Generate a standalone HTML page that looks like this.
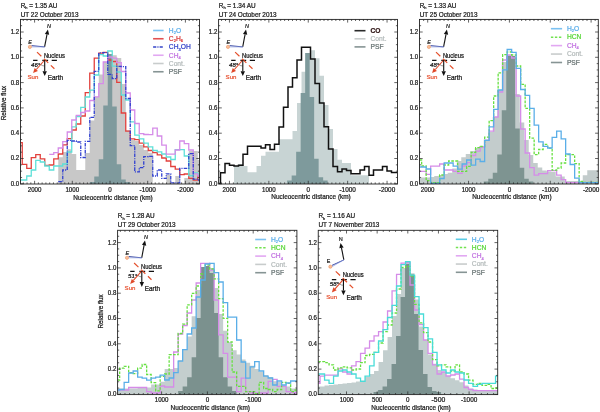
<!DOCTYPE html><html><head><meta charset="utf-8"><style>html,body{margin:0;padding:0;background:#fff;}svg{display:block;will-change:transform}text{font-family:"Liberation Sans", sans-serif}</style></head><body>
<svg width="600" height="412" viewBox="0 0 600 412">
<rect width="600" height="412" fill="#fff"/>
<defs><clipPath id="c1"><rect x="20.50" y="19.40" width="179.00" height="164.60"/></clipPath></defs>
<g clip-path="url(#c1)">
<path d="M58.25,184.00V157.30H62.75V152.00H67.25V149.20H71.75V154.00H76.25V170.10H80.75V170.10H85.25V153.00H89.75V120.50H94.25V96.70H98.75V74.50H103.25V61.80H107.75V54.00H112.25V55.30H116.75V58.00H121.25V84.00H125.75V130.30H130.25V140.00H134.75V141.00H139.25V145.00H143.75V150.00H148.25V152.70H152.75V184.00ZM166.25,184.00V174.70H170.75V184.00ZM175.25,184.00V176.00H179.75V184.00ZM184.25,184.00V178.00H188.75V151.00H193.25V151.00H197.75V160.00H199.50V184.00Z" fill="#c8c8c8"/>
<path d="M89.75,184.00V182.00H94.25V176.50H98.75V159.20H103.25V105.50H107.75V54.00H112.25V106.50H116.75V164.30H121.25V179.40H125.75V182.00H130.25V184.00Z" fill="#7f9a9d"/>
<path d="M20.50,142.70H22.25V164.40H26.75V168.30H31.25V157.70H35.75V154.70H40.25V158.90H44.75V165.30H49.25V165.00H53.75V158.90H58.25V154.00H62.75V144.90H67.25V138.70H71.75V130.00H76.25V124.00H80.75V116.00H85.25V92.60H89.75V73.20H94.25V58.20H98.75V53.10H103.25V52.40H107.75V60.00H112.25V61.50H116.75V82.40H121.25V113.00H125.75V131.10H130.25V138.80H134.75V139.60H139.25V143.20H143.75V146.80H148.25V150.50H152.75V152.70H157.25V154.80H161.75V158.00H166.25V161.00H170.75V166.50H175.25V169.20H179.75V174.70H184.25V174.00H188.75V178.30H193.25V180.10H197.75V176.00H199.50" fill="none" stroke="#e2403c" stroke-width="1.3"/>
<path d="M20.50,180.00H22.25V180.00H26.75V176.00H31.25V170.00H35.75V160.40H40.25V162.00H44.75V166.00H49.25V170.00H53.75V166.00H58.25V166.00H62.75V164.00H67.25V152.00H71.75V126.80H76.25V116.50H80.75V107.30H85.25V97.00H89.75V90.20H94.25V75.00H98.75V54.60H103.25V56.00H107.75V51.00H112.25V66.20H116.75V72.00H121.25V95.00H125.75V100.00H130.25V121.80H134.75V135.20H139.25V138.80H143.75V143.20H148.25V146.80H152.75V150.50H157.25V151.90H161.75V154.00H166.25V157.00H170.75V159.50H175.25V149.70H179.75V149.70H184.25V156.00H188.75V175.60H193.25V173.00H197.75V174.00H199.50" fill="none" stroke="#5ee0d8" stroke-width="1.3"/>
<path d="M49.25,154.40H53.75V152.70H58.25V148.00H62.75V141.70H67.25V132.00H71.75V120.00H76.25V115.30H80.75V112.50H85.25V111.00H89.75V100.50H94.25V96.80H98.75V83.70H103.25V62.00H107.75V57.00H112.25V58.20H116.75V62.60H121.25V71.50H125.75V93.00H130.25V110.00H134.75V123.50H139.25V133.70H143.75V134.50H148.25V134.60H152.75V128.20H157.25V136.00H161.75V145.10H166.25V154.20H170.75V154.20H175.25V150.00H179.75V141.00H184.25V143.70H188.75V150.00H193.25V173.80H197.75V176.00H199.50" fill="none" stroke="#d58ce8" stroke-width="1.3"/>
<path d="M58.25,181.70H62.75V170.00H67.25V140.30H71.75V141.00H76.25V142.00H80.75V157.50H85.25V141.30H89.75V117.30H94.25V71.30H98.75V52.80H103.25V52.60H107.75V74.40H112.25V78.70H116.75V66.30H121.25V66.60H125.75V98.50H130.25V145.60H134.75V171.90H139.25V167.70H143.75V156.60H148.25V156.40H152.75V176.00H157.25V170.00H161.75V178.30H166.25V173.80H170.75V182.90H175.25V182.90H179.75V168.30H184.25V168.30H188.75V153.70H193.25V179.20H197.75V180.00H199.50" fill="none" stroke="#3040d0" stroke-width="1.3" stroke-dasharray="3.6,1.1,1.1,1.1"/>
</g>
<rect x="20.50" y="19.40" width="179.00" height="164.60" fill="none" stroke="#222" stroke-width="0.9"/>
<path d="M20.50,183.80h3.20M199.50,183.80h-3.20M20.50,177.48h1.60M199.50,177.48h-1.60M20.50,171.15h1.60M199.50,171.15h-1.60M20.50,164.83h1.60M199.50,164.83h-1.60M20.50,158.50h3.20M199.50,158.50h-3.20M20.50,152.18h1.60M199.50,152.18h-1.60M20.50,145.85h1.60M199.50,145.85h-1.60M20.50,139.53h1.60M199.50,139.53h-1.60M20.50,133.20h3.20M199.50,133.20h-3.20M20.50,126.88h1.60M199.50,126.88h-1.60M20.50,120.55h1.60M199.50,120.55h-1.60M20.50,114.23h1.60M199.50,114.23h-1.60M20.50,107.90h3.20M199.50,107.90h-3.20M20.50,101.58h1.60M199.50,101.58h-1.60M20.50,95.25h1.60M199.50,95.25h-1.60M20.50,88.93h1.60M199.50,88.93h-1.60M20.50,82.60h3.20M199.50,82.60h-3.20M20.50,76.28h1.60M199.50,76.28h-1.60M20.50,69.95h1.60M199.50,69.95h-1.60M20.50,63.62h1.60M199.50,63.62h-1.60M20.50,57.30h3.20M199.50,57.30h-3.20M20.50,50.97h1.60M199.50,50.97h-1.60M20.50,44.65h1.60M199.50,44.65h-1.60M20.50,38.32h1.60M199.50,38.32h-1.60M20.50,32.00h3.20M199.50,32.00h-3.20M20.50,25.68h1.60M199.50,25.68h-1.60M196.71,184.00v-1.60M196.71,19.40v1.60M192.94,184.00v-1.60M192.94,19.40v1.60M189.17,184.00v-1.60M189.17,19.40v1.60M185.40,184.00v-3.20M185.40,19.40v3.20M181.63,184.00v-1.60M181.63,19.40v1.60M177.86,184.00v-1.60M177.86,19.40v1.60M174.09,184.00v-1.60M174.09,19.40v1.60M170.32,184.00v-1.60M170.32,19.40v1.60M166.55,184.00v-1.60M166.55,19.40v1.60M162.78,184.00v-1.60M162.78,19.40v1.60M159.01,184.00v-1.60M159.01,19.40v1.60M155.24,184.00v-1.60M155.24,19.40v1.60M151.47,184.00v-1.60M151.47,19.40v1.60M147.70,184.00v-3.20M147.70,19.40v3.20M143.93,184.00v-1.60M143.93,19.40v1.60M140.16,184.00v-1.60M140.16,19.40v1.60M136.39,184.00v-1.60M136.39,19.40v1.60M132.62,184.00v-1.60M132.62,19.40v1.60M128.85,184.00v-1.60M128.85,19.40v1.60M125.08,184.00v-1.60M125.08,19.40v1.60M121.31,184.00v-1.60M121.31,19.40v1.60M117.54,184.00v-1.60M117.54,19.40v1.60M113.77,184.00v-1.60M113.77,19.40v1.60M110.00,184.00v-3.20M110.00,19.40v3.20M106.23,184.00v-1.60M106.23,19.40v1.60M102.46,184.00v-1.60M102.46,19.40v1.60M98.69,184.00v-1.60M98.69,19.40v1.60M94.92,184.00v-1.60M94.92,19.40v1.60M91.15,184.00v-1.60M91.15,19.40v1.60M87.38,184.00v-1.60M87.38,19.40v1.60M83.61,184.00v-1.60M83.61,19.40v1.60M79.84,184.00v-1.60M79.84,19.40v1.60M76.07,184.00v-1.60M76.07,19.40v1.60M72.30,184.00v-3.20M72.30,19.40v3.20M68.53,184.00v-1.60M68.53,19.40v1.60M64.76,184.00v-1.60M64.76,19.40v1.60M60.99,184.00v-1.60M60.99,19.40v1.60M57.22,184.00v-1.60M57.22,19.40v1.60M53.45,184.00v-1.60M53.45,19.40v1.60M49.68,184.00v-1.60M49.68,19.40v1.60M45.91,184.00v-1.60M45.91,19.40v1.60M42.14,184.00v-1.60M42.14,19.40v1.60M38.37,184.00v-1.60M38.37,19.40v1.60M34.60,184.00v-3.20M34.60,19.40v3.20M30.83,184.00v-1.60M30.83,19.40v1.60M27.06,184.00v-1.60M27.06,19.40v1.60M23.29,184.00v-1.60M23.29,19.40v1.60" stroke="#222" stroke-width="0.7" fill="none"/>
<text x="19.20" y="185.70" font-size="6.30" text-anchor="end" fill="#1a1a1a" stroke="#1a1a1a" stroke-width="0.22" textLength="8.5" lengthAdjust="spacingAndGlyphs">0.0</text>
<text x="19.20" y="160.40" font-size="6.30" text-anchor="end" fill="#1a1a1a" stroke="#1a1a1a" stroke-width="0.22" textLength="8.5" lengthAdjust="spacingAndGlyphs">0.2</text>
<text x="19.20" y="135.10" font-size="6.30" text-anchor="end" fill="#1a1a1a" stroke="#1a1a1a" stroke-width="0.22" textLength="8.5" lengthAdjust="spacingAndGlyphs">0.4</text>
<text x="19.20" y="109.80" font-size="6.30" text-anchor="end" fill="#1a1a1a" stroke="#1a1a1a" stroke-width="0.22" textLength="8.5" lengthAdjust="spacingAndGlyphs">0.6</text>
<text x="19.20" y="84.50" font-size="6.30" text-anchor="end" fill="#1a1a1a" stroke="#1a1a1a" stroke-width="0.22" textLength="8.5" lengthAdjust="spacingAndGlyphs">0.8</text>
<text x="19.20" y="59.20" font-size="6.30" text-anchor="end" fill="#1a1a1a" stroke="#1a1a1a" stroke-width="0.22" textLength="8.5" lengthAdjust="spacingAndGlyphs">1.0</text>
<text x="19.20" y="33.90" font-size="6.30" text-anchor="end" fill="#1a1a1a" stroke="#1a1a1a" stroke-width="0.22" textLength="8.5" lengthAdjust="spacingAndGlyphs">1.2</text>
<text x="34.60" y="191.60" font-size="6.30" text-anchor="middle" fill="#1a1a1a" stroke="#1a1a1a" stroke-width="0.22" textLength="13.7" lengthAdjust="spacingAndGlyphs">2000</text>
<text x="72.30" y="191.60" font-size="6.30" text-anchor="middle" fill="#1a1a1a" stroke="#1a1a1a" stroke-width="0.22" textLength="13.7" lengthAdjust="spacingAndGlyphs">1000</text>
<text x="110.00" y="191.60" font-size="6.30" text-anchor="middle" fill="#1a1a1a" stroke="#1a1a1a" stroke-width="0.22" textLength="3.5" lengthAdjust="spacingAndGlyphs">0</text>
<text x="147.70" y="191.60" font-size="6.30" text-anchor="middle" fill="#1a1a1a" stroke="#1a1a1a" stroke-width="0.22" textLength="16.4" lengthAdjust="spacingAndGlyphs">-1000</text>
<text x="185.40" y="191.60" font-size="6.30" text-anchor="middle" fill="#1a1a1a" stroke="#1a1a1a" stroke-width="0.22" textLength="16.4" lengthAdjust="spacingAndGlyphs">-2000</text>
<text x="113.00" y="199.90" font-size="6.45" text-anchor="middle" fill="#1a1a1a" stroke="#1a1a1a" stroke-width="0.22">Nucleocentric distance (km)</text>
<text x="20.70" y="7.50" font-size="6.40" fill="#1a1a1a" stroke="#1a1a1a" stroke-width="0.22">R<tspan font-size="3.84" dy="1.4">h</tspan><tspan dy="-1.4"> = 1.35 AU</tspan></text>
<text x="20.70" y="16.50" font-size="6.40" fill="#1a1a1a" stroke="#1a1a1a" stroke-width="0.22">UT 22 October 2013</text>
<text x="5.90" y="103.10" font-size="6.30" text-anchor="middle" fill="#1a1a1a" stroke="#1a1a1a" stroke-width="0.22" transform="rotate(-90 5.90 103.10)">Relative flux</text>
<line x1="153.10" y1="30.50" x2="163.60" y2="30.50" stroke="#7cc2f2" stroke-width="1.6"/>
<text x="168.80" y="32.80" font-size="6.70" fill="#5aaeea" stroke="#5aaeea" stroke-width="0.22">H<tspan font-size="4.02" dy="1.4">2</tspan><tspan dy="-1.4">O</tspan></text>
<line x1="153.10" y1="38.75" x2="163.60" y2="38.75" stroke="#e25050" stroke-width="1.6"/>
<text x="168.80" y="41.05" font-size="6.70" fill="#d83838" stroke="#d83838" stroke-width="0.22">C<tspan font-size="4.02" dy="1.4">2</tspan><tspan dy="-1.4">H</tspan><tspan font-size="4.02" dy="1.4">6</tspan></text>
<line x1="153.10" y1="47.00" x2="163.60" y2="47.00" stroke="#3444c8" stroke-width="1.5" stroke-dasharray="3.2,1.1,1.1,1.1"/>
<text x="168.80" y="49.30" font-size="6.70" fill="#3040c8" stroke="#3040c8" stroke-width="0.22">CH<tspan font-size="4.02" dy="1.4">3</tspan><tspan dy="-1.4">OH</tspan></text>
<line x1="153.10" y1="55.25" x2="163.60" y2="55.25" stroke="#e2a8f2" stroke-width="1.6"/>
<text x="168.80" y="57.55" font-size="6.70" fill="#c070e0" stroke="#c070e0" stroke-width="0.22">CH<tspan font-size="4.02" dy="1.4">4</tspan><tspan dy="-1.4"></tspan></text>
<line x1="153.10" y1="63.50" x2="163.60" y2="63.50" stroke="#c8cccc" stroke-width="1.6"/>
<text x="168.80" y="65.80" font-size="6.70" fill="#b4bbbb" stroke="#b4bbbb" stroke-width="0.22">Cont.</text>
<line x1="153.10" y1="71.75" x2="163.60" y2="71.75" stroke="#869494" stroke-width="1.6"/>
<text x="168.80" y="74.05" font-size="6.70" fill="#667272" stroke="#667272" stroke-width="0.22">PSF</text>
<line x1="44.60" y1="46.90" x2="47.00" y2="34.31" stroke="#111" stroke-width="1.10"/><path d="M47.90,29.60L49.16,34.73L44.84,33.90Z" fill="#111"/>
<line x1="44.60" y1="46.90" x2="31.50" y2="45.60" stroke="#2a3a98" stroke-width="0.9"/>
<line x1="44.60" y1="46.90" x2="31.50" y2="46.90" stroke="#8a9ae0" stroke-width="0.7"/>
<circle cx="29.90" cy="46.90" r="1.6" fill="#f8c09a" stroke="#ec9060" stroke-width="0.6"/>
<text x="46.90" y="28.30" font-size="6.00" fill="#1a1a1a" stroke="#1a1a1a" stroke-width="0.22" font-style="italic" textLength="4.0" lengthAdjust="spacingAndGlyphs">N</text>
<text x="28.30" y="43.70" font-size="5.90" fill="#1a1a1a" stroke="#1a1a1a" stroke-width="0.22" font-style="italic" textLength="3.6" lengthAdjust="spacingAndGlyphs">E</text>
<line x1="33.10" y1="60.40" x2="56.90" y2="60.40" stroke="#111" stroke-width="1.25" stroke-dasharray="4.4,4.8,5.8,3.6,5.2,9"/>
<line x1="37.00" y1="52.10" x2="54.40" y2="68.80" stroke="#e4502c" stroke-width="1.2" stroke-dasharray="6,3.6"/>
<line x1="44.70" y1="60.00" x2="36.28" y2="69.51" stroke="#e04a2a" stroke-width="1.10"/><path d="M33.10,73.10L34.64,68.05L37.93,70.96Z" fill="#e04a2a"/>
<line x1="44.70" y1="60.00" x2="44.70" y2="71.20" stroke="#111" stroke-width="1.10"/><path d="M44.70,76.00L42.50,71.20L46.90,71.20Z" fill="#111"/>
<path d="M40.70,64.50A6,6 0 0 0 44.70,66.00" fill="none" stroke="#333" stroke-width="0.5"/>
<text x="43.90" y="57.70" font-size="6.40" fill="#111" stroke="#111" stroke-width="0.22" textLength="21" lengthAdjust="spacingAndGlyphs">Nucleus</text>
<text x="27.50" y="79.20" font-size="6.10" fill="#e85636" stroke="#e85636" stroke-width="0.22">Sun</text>
<text x="47.70" y="80.20" font-size="6.40" fill="#111" stroke="#111" stroke-width="0.22">Earth</text>
<text x="31.00" y="66.60" font-size="6.08" fill="#111" stroke="#111" stroke-width="0.22" font-style="italic">46°</text>
<defs><clipPath id="c2"><rect x="218.60" y="19.40" width="178.90" height="164.60"/></clipPath></defs>
<g clip-path="url(#c2)">
<path d="M234.00,184.00V166.00H238.50V164.00H243.00V166.00H247.50V172.30H252.00V172.30H256.50V166.10H261.00V155.80H265.50V151.70H270.00V151.70H274.50V151.70H279.00V139.30H283.50V139.30H288.00V139.30H292.50V131.00H297.00V103.00H301.50V71.70H306.00V53.00H310.50V50.20H315.00V58.30H319.50V75.80H324.00V105.00H328.50V128.90H333.00V149.10H337.50V159.80H342.00V162.90H346.50V162.90H351.00V175.30H355.50V175.30H360.00V175.30H364.50V175.30H369.00V184.00Z" fill="#c8d4d4"/>
<path d="M287.15,184.00V180.60H291.65V175.40H296.15V151.70H300.65V93.10H305.15V53.10H309.65V97.00H314.15V158.80H318.65V177.30H323.15V180.50H327.65V184.00Z" fill="#7e9a9c"/>
<path d="M218.60,183.50H220.50V172.70H225.00V163.40H229.50V165.30H234.00V166.10H238.50V165.30H243.00V154.30H247.50V146.30H252.00V146.30H256.50V146.30H261.00V148.10H265.50V144.80H270.00V149.60H274.50V144.20H279.00V126.90H283.50V107.20H288.00V86.90H292.50V77.80H297.00V60.10H301.50V47.30H306.00V47.30H310.50V59.10H315.00V83.40H319.50V103.10H324.00V126.80H328.50V149.10H333.00V166.40H337.50V171.80H342.00V169.10H346.50V170.50H351.00V173.80H355.50V173.80H360.00V170.10H364.50V166.40H369.00V175.30H373.50V170.10H378.00V170.10H382.50V166.40H387.00V171.10H391.50V172.60H396.00V172.60H397.50" fill="none" stroke="#111111" stroke-width="1.5"/>
</g>
<rect x="218.60" y="19.40" width="178.90" height="164.60" fill="none" stroke="#222" stroke-width="0.9"/>
<path d="M218.60,183.80h3.20M397.50,183.80h-3.20M218.60,177.48h1.60M397.50,177.48h-1.60M218.60,171.15h1.60M397.50,171.15h-1.60M218.60,164.83h1.60M397.50,164.83h-1.60M218.60,158.50h3.20M397.50,158.50h-3.20M218.60,152.18h1.60M397.50,152.18h-1.60M218.60,145.85h1.60M397.50,145.85h-1.60M218.60,139.53h1.60M397.50,139.53h-1.60M218.60,133.20h3.20M397.50,133.20h-3.20M218.60,126.88h1.60M397.50,126.88h-1.60M218.60,120.55h1.60M397.50,120.55h-1.60M218.60,114.23h1.60M397.50,114.23h-1.60M218.60,107.90h3.20M397.50,107.90h-3.20M218.60,101.58h1.60M397.50,101.58h-1.60M218.60,95.25h1.60M397.50,95.25h-1.60M218.60,88.93h1.60M397.50,88.93h-1.60M218.60,82.60h3.20M397.50,82.60h-3.20M218.60,76.28h1.60M397.50,76.28h-1.60M218.60,69.95h1.60M397.50,69.95h-1.60M218.60,63.62h1.60M397.50,63.62h-1.60M218.60,57.30h3.20M397.50,57.30h-3.20M218.60,50.97h1.60M397.50,50.97h-1.60M218.60,44.65h1.60M397.50,44.65h-1.60M218.60,38.32h1.60M397.50,38.32h-1.60M218.60,32.00h3.20M397.50,32.00h-3.20M218.60,25.68h1.60M397.50,25.68h-1.60M394.93,184.00v-1.60M394.93,19.40v1.60M390.99,184.00v-1.60M390.99,19.40v1.60M387.05,184.00v-3.20M387.05,19.40v3.20M383.11,184.00v-1.60M383.11,19.40v1.60M379.17,184.00v-1.60M379.17,19.40v1.60M375.23,184.00v-1.60M375.23,19.40v1.60M371.29,184.00v-1.60M371.29,19.40v1.60M367.35,184.00v-1.60M367.35,19.40v1.60M363.41,184.00v-1.60M363.41,19.40v1.60M359.47,184.00v-1.60M359.47,19.40v1.60M355.53,184.00v-1.60M355.53,19.40v1.60M351.59,184.00v-1.60M351.59,19.40v1.60M347.65,184.00v-3.20M347.65,19.40v3.20M343.71,184.00v-1.60M343.71,19.40v1.60M339.77,184.00v-1.60M339.77,19.40v1.60M335.83,184.00v-1.60M335.83,19.40v1.60M331.89,184.00v-1.60M331.89,19.40v1.60M327.95,184.00v-1.60M327.95,19.40v1.60M324.01,184.00v-1.60M324.01,19.40v1.60M320.07,184.00v-1.60M320.07,19.40v1.60M316.13,184.00v-1.60M316.13,19.40v1.60M312.19,184.00v-1.60M312.19,19.40v1.60M308.25,184.00v-3.20M308.25,19.40v3.20M304.31,184.00v-1.60M304.31,19.40v1.60M300.37,184.00v-1.60M300.37,19.40v1.60M296.43,184.00v-1.60M296.43,19.40v1.60M292.49,184.00v-1.60M292.49,19.40v1.60M288.55,184.00v-1.60M288.55,19.40v1.60M284.61,184.00v-1.60M284.61,19.40v1.60M280.67,184.00v-1.60M280.67,19.40v1.60M276.73,184.00v-1.60M276.73,19.40v1.60M272.79,184.00v-1.60M272.79,19.40v1.60M268.85,184.00v-3.20M268.85,19.40v3.20M264.91,184.00v-1.60M264.91,19.40v1.60M260.97,184.00v-1.60M260.97,19.40v1.60M257.03,184.00v-1.60M257.03,19.40v1.60M253.09,184.00v-1.60M253.09,19.40v1.60M249.15,184.00v-1.60M249.15,19.40v1.60M245.21,184.00v-1.60M245.21,19.40v1.60M241.27,184.00v-1.60M241.27,19.40v1.60M237.33,184.00v-1.60M237.33,19.40v1.60M233.39,184.00v-1.60M233.39,19.40v1.60M229.45,184.00v-3.20M229.45,19.40v3.20M225.51,184.00v-1.60M225.51,19.40v1.60M221.57,184.00v-1.60M221.57,19.40v1.60" stroke="#222" stroke-width="0.7" fill="none"/>
<text x="217.30" y="185.70" font-size="6.30" text-anchor="end" fill="#1a1a1a" stroke="#1a1a1a" stroke-width="0.22" textLength="8.5" lengthAdjust="spacingAndGlyphs">0.0</text>
<text x="217.30" y="160.40" font-size="6.30" text-anchor="end" fill="#1a1a1a" stroke="#1a1a1a" stroke-width="0.22" textLength="8.5" lengthAdjust="spacingAndGlyphs">0.2</text>
<text x="217.30" y="135.10" font-size="6.30" text-anchor="end" fill="#1a1a1a" stroke="#1a1a1a" stroke-width="0.22" textLength="8.5" lengthAdjust="spacingAndGlyphs">0.4</text>
<text x="217.30" y="109.80" font-size="6.30" text-anchor="end" fill="#1a1a1a" stroke="#1a1a1a" stroke-width="0.22" textLength="8.5" lengthAdjust="spacingAndGlyphs">0.6</text>
<text x="217.30" y="84.50" font-size="6.30" text-anchor="end" fill="#1a1a1a" stroke="#1a1a1a" stroke-width="0.22" textLength="8.5" lengthAdjust="spacingAndGlyphs">0.8</text>
<text x="217.30" y="59.20" font-size="6.30" text-anchor="end" fill="#1a1a1a" stroke="#1a1a1a" stroke-width="0.22" textLength="8.5" lengthAdjust="spacingAndGlyphs">1.0</text>
<text x="217.30" y="33.90" font-size="6.30" text-anchor="end" fill="#1a1a1a" stroke="#1a1a1a" stroke-width="0.22" textLength="8.5" lengthAdjust="spacingAndGlyphs">1.2</text>
<text x="229.45" y="191.60" font-size="6.30" text-anchor="middle" fill="#1a1a1a" stroke="#1a1a1a" stroke-width="0.22" textLength="13.7" lengthAdjust="spacingAndGlyphs">2000</text>
<text x="268.85" y="191.60" font-size="6.30" text-anchor="middle" fill="#1a1a1a" stroke="#1a1a1a" stroke-width="0.22" textLength="13.7" lengthAdjust="spacingAndGlyphs">1000</text>
<text x="308.25" y="191.60" font-size="6.30" text-anchor="middle" fill="#1a1a1a" stroke="#1a1a1a" stroke-width="0.22" textLength="3.5" lengthAdjust="spacingAndGlyphs">0</text>
<text x="347.65" y="191.60" font-size="6.30" text-anchor="middle" fill="#1a1a1a" stroke="#1a1a1a" stroke-width="0.22" textLength="16.4" lengthAdjust="spacingAndGlyphs">-1000</text>
<text x="387.05" y="191.60" font-size="6.30" text-anchor="middle" fill="#1a1a1a" stroke="#1a1a1a" stroke-width="0.22" textLength="16.4" lengthAdjust="spacingAndGlyphs">-2000</text>
<text x="311.05" y="199.20" font-size="6.45" text-anchor="middle" fill="#1a1a1a" stroke="#1a1a1a" stroke-width="0.22">Nucleocentric distance (km)</text>
<text x="218.80" y="7.50" font-size="6.40" fill="#1a1a1a" stroke="#1a1a1a" stroke-width="0.22">R<tspan font-size="3.84" dy="1.4">h</tspan><tspan dy="-1.4"> = 1.34 AU</tspan></text>
<text x="218.80" y="16.50" font-size="6.40" fill="#1a1a1a" stroke="#1a1a1a" stroke-width="0.22">UT 24 October 2013</text>
<line x1="354.50" y1="30.70" x2="365.50" y2="30.70" stroke="#2a2a2a" stroke-width="1.6"/>
<text x="370.50" y="33.00" font-size="6.70" fill="#2a1010" stroke="#2a1010" stroke-width="0.22" font-weight="bold">CO</text>
<line x1="354.50" y1="38.80" x2="365.50" y2="38.80" stroke="#c8cccc" stroke-width="1.6"/>
<text x="370.50" y="41.10" font-size="6.70" fill="#b4bbbb" stroke="#b4bbbb" stroke-width="0.22">Cont.</text>
<line x1="354.50" y1="46.90" x2="365.50" y2="46.90" stroke="#869494" stroke-width="1.6"/>
<text x="370.50" y="49.20" font-size="6.70" fill="#667272" stroke="#667272" stroke-width="0.22">PSF</text>
<line x1="242.70" y1="46.90" x2="245.10" y2="34.31" stroke="#111" stroke-width="1.10"/><path d="M246.00,29.60L247.26,34.73L242.94,33.90Z" fill="#111"/>
<line x1="242.70" y1="46.90" x2="229.60" y2="45.60" stroke="#2a3a98" stroke-width="0.9"/>
<line x1="242.70" y1="46.90" x2="229.60" y2="46.90" stroke="#8a9ae0" stroke-width="0.7"/>
<circle cx="228.00" cy="46.90" r="1.6" fill="#f8c09a" stroke="#ec9060" stroke-width="0.6"/>
<text x="245.00" y="28.30" font-size="6.00" fill="#1a1a1a" stroke="#1a1a1a" stroke-width="0.22" font-style="italic" textLength="4.0" lengthAdjust="spacingAndGlyphs">N</text>
<text x="226.40" y="43.70" font-size="5.90" fill="#1a1a1a" stroke="#1a1a1a" stroke-width="0.22" font-style="italic" textLength="3.6" lengthAdjust="spacingAndGlyphs">E</text>
<line x1="231.20" y1="60.40" x2="255.00" y2="60.40" stroke="#111" stroke-width="1.25" stroke-dasharray="4.4,4.8,5.8,3.6,5.2,9"/>
<line x1="235.10" y1="52.10" x2="252.50" y2="68.80" stroke="#e4502c" stroke-width="1.2" stroke-dasharray="6,3.6"/>
<line x1="242.80" y1="60.00" x2="234.38" y2="69.51" stroke="#e04a2a" stroke-width="1.10"/><path d="M231.20,73.10L232.74,68.05L236.03,70.96Z" fill="#e04a2a"/>
<line x1="242.80" y1="60.00" x2="242.80" y2="71.20" stroke="#111" stroke-width="1.10"/><path d="M242.80,76.00L240.60,71.20L245.00,71.20Z" fill="#111"/>
<path d="M238.80,64.50A6,6 0 0 0 242.80,66.00" fill="none" stroke="#333" stroke-width="0.5"/>
<text x="242.00" y="57.70" font-size="6.40" fill="#111" stroke="#111" stroke-width="0.22" textLength="21" lengthAdjust="spacingAndGlyphs">Nucleus</text>
<text x="225.60" y="79.20" font-size="6.10" fill="#e85636" stroke="#e85636" stroke-width="0.22">Sun</text>
<text x="245.80" y="80.20" font-size="6.40" fill="#111" stroke="#111" stroke-width="0.22">Earth</text>
<text x="229.10" y="66.60" font-size="6.08" fill="#111" stroke="#111" stroke-width="0.22" font-style="italic">48°</text>
<defs><clipPath id="c3"><rect x="419.50" y="19.40" width="178.80" height="164.60"/></clipPath></defs>
<g clip-path="url(#c3)">
<path d="M419.50,184.00V177.50H420.75V177.50H425.25V177.50H429.75V177.00H434.25V176.00H438.75V175.00H443.25V174.00H447.75V172.80H452.25V168.40H456.75V161.00H461.25V157.30H465.75V154.00H470.25V151.00H474.75V148.00H479.25V146.00H483.75V139.50H488.25V132.00H492.75V117.00H497.25V90.00H501.75V62.00H506.25V55.00H510.75V56.00H515.25V94.00H519.75V122.50H524.25V140.00H528.75V155.00H533.25V163.00H537.75V167.60H542.25V170.60H546.75V171.50H551.25V172.00H555.75V176.40H560.25V176.40H564.75V181.00H569.25V181.00H573.75V181.00H578.25V181.00H582.75V175.30H587.25V170.20H591.75V170.20H596.25V170.20H598.30V184.00Z" fill="#c3cccc"/>
<path d="M483.75,184.00V181.50H488.25V178.80H492.75V172.80H497.25V154.50H501.75V110.20H506.25V56.00H510.75V56.00H515.25V128.50H519.75V167.80H524.25V178.80H528.75V181.50H533.25V184.00Z" fill="#7e9491"/>
<path d="M419.50,171.30H421.65V171.30H426.15V174.40H430.65V166.10H435.15V166.10H439.65V164.00H444.15V170.00H448.65V170.00H453.15V171.30H457.65V173.30H462.15V166.00H466.65V162.70H471.15V155.50H475.65V151.20H480.15V147.00H484.65V140.30H489.15V131.20H493.65V117.00H498.15V92.00H502.65V60.00H507.15V55.00H511.65V58.00H516.15V96.00H520.65V129.00H525.15V153.00H529.65V167.60H534.15V175.20H538.65V173.60H543.15V173.60H547.65V170.60H552.15V170.60H556.65V175.20H561.15V179.70H565.65V182.70H570.15V182.70H574.65V182.70H579.15V182.70H583.65V182.70H588.15V182.70H592.65V182.70H597.15V182.70H598.30" fill="none" stroke="#d58ce8" stroke-width="1.3"/>
<path d="M419.50,160.00H421.65V166.00H426.15V180.60H430.65V182.60H435.15V182.60H439.65V175.00H444.15V165.00H448.65V161.00H453.15V161.00H457.65V171.30H462.15V171.30H466.65V166.40H471.15V152.40H475.65V147.60H480.15V146.50H484.65V137.20H489.15V120.70H493.65V96.00H498.15V72.80H502.65V54.60H507.15V52.00H511.65V55.00H516.15V66.00H520.65V84.30H525.15V108.30H529.65V138.20H534.15V154.70H538.65V149.50H543.15V144.40H547.65V148.20H552.15V170.20H556.65V168.20H561.15V163.00H565.65V154.70H570.15V154.70H574.65V163.60H579.15V181.50H583.65V182.50H588.15V182.50H592.65V182.50H597.15V182.50H598.30" fill="none" stroke="#66e040" stroke-width="1.3" stroke-dasharray="2.6,1.4"/>
<path d="M419.50,167.00H421.65V167.00H426.15V169.00H430.65V183.50H435.15V183.50H439.65V178.50H444.15V163.00H448.65V163.00H453.15V166.10H457.65V169.20H462.15V164.00H466.65V160.00H471.15V165.20H475.65V159.10H480.15V161.50H484.65V140.30H489.15V126.90H493.65V109.30H498.15V90.00H502.65V69.80H507.15V49.50H511.65V52.40H516.15V68.40H520.65V89.50H525.15V95.30H529.65V108.40H534.15V125.10H538.65V141.80H543.15V146.40H547.65V148.00H552.15V137.30H556.65V131.20H561.15V138.80H565.65V154.00H570.15V164.50H574.65V178.20H579.15V182.70H583.65V182.70H588.15V182.70H592.65V182.70H597.15V182.70H598.30" fill="none" stroke="#5aaee8" stroke-width="1.3"/>
</g>
<rect x="419.50" y="19.40" width="178.80" height="164.60" fill="none" stroke="#222" stroke-width="0.9"/>
<path d="M419.50,183.80h3.20M598.30,183.80h-3.20M419.50,177.48h1.60M598.30,177.48h-1.60M419.50,171.15h1.60M598.30,171.15h-1.60M419.50,164.83h1.60M598.30,164.83h-1.60M419.50,158.50h3.20M598.30,158.50h-3.20M419.50,152.18h1.60M598.30,152.18h-1.60M419.50,145.85h1.60M598.30,145.85h-1.60M419.50,139.53h1.60M598.30,139.53h-1.60M419.50,133.20h3.20M598.30,133.20h-3.20M419.50,126.88h1.60M598.30,126.88h-1.60M419.50,120.55h1.60M598.30,120.55h-1.60M419.50,114.23h1.60M598.30,114.23h-1.60M419.50,107.90h3.20M598.30,107.90h-3.20M419.50,101.58h1.60M598.30,101.58h-1.60M419.50,95.25h1.60M598.30,95.25h-1.60M419.50,88.93h1.60M598.30,88.93h-1.60M419.50,82.60h3.20M598.30,82.60h-3.20M419.50,76.28h1.60M598.30,76.28h-1.60M419.50,69.95h1.60M598.30,69.95h-1.60M419.50,63.62h1.60M598.30,63.62h-1.60M419.50,57.30h3.20M598.30,57.30h-3.20M419.50,50.97h1.60M598.30,50.97h-1.60M419.50,44.65h1.60M598.30,44.65h-1.60M419.50,38.32h1.60M598.30,38.32h-1.60M419.50,32.00h3.20M598.30,32.00h-3.20M419.50,25.68h1.60M598.30,25.68h-1.60M595.18,184.00v-1.60M595.18,19.40v1.60M591.10,184.00v-3.20M591.10,19.40v3.20M587.01,184.00v-1.60M587.01,19.40v1.60M582.93,184.00v-1.60M582.93,19.40v1.60M578.85,184.00v-1.60M578.85,19.40v1.60M574.76,184.00v-1.60M574.76,19.40v1.60M570.67,184.00v-1.60M570.67,19.40v1.60M566.59,184.00v-1.60M566.59,19.40v1.60M562.50,184.00v-1.60M562.50,19.40v1.60M558.42,184.00v-1.60M558.42,19.40v1.60M554.34,184.00v-1.60M554.34,19.40v1.60M550.25,184.00v-3.20M550.25,19.40v3.20M546.16,184.00v-1.60M546.16,19.40v1.60M542.08,184.00v-1.60M542.08,19.40v1.60M538.00,184.00v-1.60M538.00,19.40v1.60M533.91,184.00v-1.60M533.91,19.40v1.60M529.82,184.00v-1.60M529.82,19.40v1.60M525.74,184.00v-1.60M525.74,19.40v1.60M521.65,184.00v-1.60M521.65,19.40v1.60M517.57,184.00v-1.60M517.57,19.40v1.60M513.49,184.00v-1.60M513.49,19.40v1.60M509.40,184.00v-3.20M509.40,19.40v3.20M505.31,184.00v-1.60M505.31,19.40v1.60M501.23,184.00v-1.60M501.23,19.40v1.60M497.14,184.00v-1.60M497.14,19.40v1.60M493.06,184.00v-1.60M493.06,19.40v1.60M488.97,184.00v-1.60M488.97,19.40v1.60M484.89,184.00v-1.60M484.89,19.40v1.60M480.80,184.00v-1.60M480.80,19.40v1.60M476.72,184.00v-1.60M476.72,19.40v1.60M472.63,184.00v-1.60M472.63,19.40v1.60M468.55,184.00v-3.20M468.55,19.40v3.20M464.46,184.00v-1.60M464.46,19.40v1.60M460.38,184.00v-1.60M460.38,19.40v1.60M456.29,184.00v-1.60M456.29,19.40v1.60M452.21,184.00v-1.60M452.21,19.40v1.60M448.12,184.00v-1.60M448.12,19.40v1.60M444.04,184.00v-1.60M444.04,19.40v1.60M439.95,184.00v-1.60M439.95,19.40v1.60M435.87,184.00v-1.60M435.87,19.40v1.60M431.78,184.00v-1.60M431.78,19.40v1.60M427.70,184.00v-3.20M427.70,19.40v3.20M423.61,184.00v-1.60M423.61,19.40v1.60" stroke="#222" stroke-width="0.7" fill="none"/>
<text x="418.20" y="185.70" font-size="6.30" text-anchor="end" fill="#1a1a1a" stroke="#1a1a1a" stroke-width="0.22" textLength="8.5" lengthAdjust="spacingAndGlyphs">0.0</text>
<text x="418.20" y="160.40" font-size="6.30" text-anchor="end" fill="#1a1a1a" stroke="#1a1a1a" stroke-width="0.22" textLength="8.5" lengthAdjust="spacingAndGlyphs">0.2</text>
<text x="418.20" y="135.10" font-size="6.30" text-anchor="end" fill="#1a1a1a" stroke="#1a1a1a" stroke-width="0.22" textLength="8.5" lengthAdjust="spacingAndGlyphs">0.4</text>
<text x="418.20" y="109.80" font-size="6.30" text-anchor="end" fill="#1a1a1a" stroke="#1a1a1a" stroke-width="0.22" textLength="8.5" lengthAdjust="spacingAndGlyphs">0.6</text>
<text x="418.20" y="84.50" font-size="6.30" text-anchor="end" fill="#1a1a1a" stroke="#1a1a1a" stroke-width="0.22" textLength="8.5" lengthAdjust="spacingAndGlyphs">0.8</text>
<text x="418.20" y="59.20" font-size="6.30" text-anchor="end" fill="#1a1a1a" stroke="#1a1a1a" stroke-width="0.22" textLength="8.5" lengthAdjust="spacingAndGlyphs">1.0</text>
<text x="418.20" y="33.90" font-size="6.30" text-anchor="end" fill="#1a1a1a" stroke="#1a1a1a" stroke-width="0.22" textLength="8.5" lengthAdjust="spacingAndGlyphs">1.2</text>
<text x="427.70" y="191.60" font-size="6.30" text-anchor="middle" fill="#1a1a1a" stroke="#1a1a1a" stroke-width="0.22" textLength="13.7" lengthAdjust="spacingAndGlyphs">2000</text>
<text x="468.55" y="191.60" font-size="6.30" text-anchor="middle" fill="#1a1a1a" stroke="#1a1a1a" stroke-width="0.22" textLength="13.7" lengthAdjust="spacingAndGlyphs">1000</text>
<text x="509.40" y="191.60" font-size="6.30" text-anchor="middle" fill="#1a1a1a" stroke="#1a1a1a" stroke-width="0.22" textLength="3.5" lengthAdjust="spacingAndGlyphs">0</text>
<text x="550.25" y="191.60" font-size="6.30" text-anchor="middle" fill="#1a1a1a" stroke="#1a1a1a" stroke-width="0.22" textLength="16.4" lengthAdjust="spacingAndGlyphs">-1000</text>
<text x="591.10" y="191.60" font-size="6.30" text-anchor="middle" fill="#1a1a1a" stroke="#1a1a1a" stroke-width="0.22" textLength="16.4" lengthAdjust="spacingAndGlyphs">-2000</text>
<text x="511.90" y="198.70" font-size="6.45" text-anchor="middle" fill="#1a1a1a" stroke="#1a1a1a" stroke-width="0.22">Nucleocentric distance (km)</text>
<text x="419.70" y="7.50" font-size="6.40" fill="#1a1a1a" stroke="#1a1a1a" stroke-width="0.22">R<tspan font-size="3.84" dy="1.4">h</tspan><tspan dy="-1.4"> = 1.33 AU</tspan></text>
<text x="419.70" y="16.50" font-size="6.40" fill="#1a1a1a" stroke="#1a1a1a" stroke-width="0.22">UT 25 October 2013</text>
<line x1="550.90" y1="28.70" x2="562.10" y2="28.70" stroke="#7cc2f2" stroke-width="1.6"/>
<text x="566.90" y="31.00" font-size="6.70" fill="#5aaeea" stroke="#5aaeea" stroke-width="0.22">H<tspan font-size="4.02" dy="1.4">2</tspan><tspan dy="-1.4">O</tspan></text>
<line x1="550.90" y1="37.15" x2="562.10" y2="37.15" stroke="#72e250" stroke-width="1.5" stroke-dasharray="2.4,1.6"/>
<text x="566.90" y="39.45" font-size="6.70" fill="#56d636" stroke="#56d636" stroke-width="0.22">HCN</text>
<line x1="550.90" y1="45.60" x2="562.10" y2="45.60" stroke="#e2a8f2" stroke-width="1.6"/>
<text x="566.90" y="47.90" font-size="6.70" fill="#c070e0" stroke="#c070e0" stroke-width="0.22">CH<tspan font-size="4.02" dy="1.4">4</tspan><tspan dy="-1.4"></tspan></text>
<line x1="550.90" y1="54.05" x2="562.10" y2="54.05" stroke="#c8cccc" stroke-width="1.6"/>
<text x="566.90" y="56.35" font-size="6.70" fill="#b4bbbb" stroke="#b4bbbb" stroke-width="0.22">Cont.</text>
<line x1="550.90" y1="62.50" x2="562.10" y2="62.50" stroke="#869494" stroke-width="1.6"/>
<text x="566.90" y="64.80" font-size="6.70" fill="#667272" stroke="#667272" stroke-width="0.22">PSF</text>
<line x1="443.60" y1="46.90" x2="446.00" y2="34.31" stroke="#111" stroke-width="1.10"/><path d="M446.90,29.60L448.16,34.73L443.84,33.90Z" fill="#111"/>
<line x1="443.60" y1="46.90" x2="430.50" y2="45.60" stroke="#2a3a98" stroke-width="0.9"/>
<line x1="443.60" y1="46.90" x2="430.50" y2="46.90" stroke="#8a9ae0" stroke-width="0.7"/>
<circle cx="428.90" cy="46.90" r="1.6" fill="#f8c09a" stroke="#ec9060" stroke-width="0.6"/>
<text x="445.90" y="28.30" font-size="6.00" fill="#1a1a1a" stroke="#1a1a1a" stroke-width="0.22" font-style="italic" textLength="4.0" lengthAdjust="spacingAndGlyphs">N</text>
<text x="427.30" y="43.70" font-size="5.90" fill="#1a1a1a" stroke="#1a1a1a" stroke-width="0.22" font-style="italic" textLength="3.6" lengthAdjust="spacingAndGlyphs">E</text>
<line x1="432.10" y1="60.40" x2="455.90" y2="60.40" stroke="#111" stroke-width="1.25" stroke-dasharray="4.4,4.8,5.8,3.6,5.2,9"/>
<line x1="436.00" y1="52.10" x2="453.40" y2="68.80" stroke="#e4502c" stroke-width="1.2" stroke-dasharray="6,3.6"/>
<line x1="443.70" y1="60.00" x2="435.28" y2="69.51" stroke="#e04a2a" stroke-width="1.10"/><path d="M432.10,73.10L433.64,68.05L436.93,70.96Z" fill="#e04a2a"/>
<line x1="443.70" y1="60.00" x2="443.70" y2="71.20" stroke="#111" stroke-width="1.10"/><path d="M443.70,76.00L441.50,71.20L445.90,71.20Z" fill="#111"/>
<path d="M439.70,64.50A6,6 0 0 0 443.70,66.00" fill="none" stroke="#333" stroke-width="0.5"/>
<text x="442.90" y="57.70" font-size="6.40" fill="#111" stroke="#111" stroke-width="0.22" textLength="21" lengthAdjust="spacingAndGlyphs">Nucleus</text>
<text x="426.50" y="79.20" font-size="6.10" fill="#e85636" stroke="#e85636" stroke-width="0.22">Sun</text>
<text x="446.70" y="80.20" font-size="6.40" fill="#111" stroke="#111" stroke-width="0.22">Earth</text>
<text x="430.00" y="66.60" font-size="6.08" fill="#111" stroke="#111" stroke-width="0.22" font-style="italic">48°</text>
<defs><clipPath id="c4"><rect x="117.60" y="230.30" width="179.30" height="164.30"/></clipPath></defs>
<g clip-path="url(#c4)">
<path d="M117.60,394.60V388.50H119.65V388.50H124.15V388.50H128.65V388.50H133.15V388.50H137.65V387.50H142.15V387.50H146.65V387.50H151.15V384.50H155.65V384.50H160.15V381.80H164.65V369.00H169.15V369.00H173.65V368.00H178.15V360.00H182.65V349.00H187.15V336.40H191.65V316.20H196.15V290.00H200.65V270.00H205.15V266.00H209.65V268.00H214.15V288.00H218.65V314.00H223.15V330.70H227.65V342.00H232.15V350.30H236.65V354.40H241.15V359.60H245.65V362.70H250.15V365.80H254.65V368.90H259.15V372.00H263.65V375.10H268.15V377.10H272.65V381.30H277.15V382.00H281.65V385.40H286.15V386.40H290.65V388.50H295.15V389.00H296.90V394.60Z" fill="#c4cece"/>
<path d="M178.15,394.60V391.00H182.65V386.40H187.15V377.30H191.65V357.30H196.15V318.00H200.65V267.00H205.15V266.00H209.65V273.00H214.15V313.00H218.65V357.30H223.15V377.30H227.65V386.40H232.15V391.00H236.65V394.60Z" fill="#7b918e"/>
<path d="M117.60,390.00H119.65V390.00H124.15V390.00H128.65V387.50H133.15V387.50H137.65V387.50H142.15V387.50H146.65V391.60H151.15V393.00H155.65V393.00H160.15V386.00H164.65V387.00H169.15V387.00H173.65V352.00H178.15V334.00H182.65V325.50H187.15V313.00H191.65V300.00H196.15V283.00H200.65V263.40H205.15V263.40H209.65V270.00H214.15V300.00H218.65V334.80H223.15V353.40H227.65V377.10H232.15V377.10H236.65V391.60H241.15V378.20H245.65V391.60H250.15V393.00H254.65V393.00H259.15V393.00H263.65V393.00H268.15V381.30H272.65V379.30H277.15V386.40H281.65V386.40H286.15V391.60H290.65V392.60H295.15V393.00H296.90" fill="none" stroke="#d58ce8" stroke-width="1.3"/>
<path d="M117.60,380.00H119.65V368.20H124.15V366.40H128.65V372.70H133.15V373.60H137.65V368.20H142.15V364.50H146.65V374.50H151.15V382.70H155.65V390.90H160.15V376.40H164.65V374.00H169.15V354.70H173.65V354.70H178.15V333.50H182.65V324.20H187.15V304.80H191.65V293.40H196.15V286.00H200.65V274.00H205.15V265.00H209.65V269.00H214.15V278.90H218.65V298.60H223.15V318.30H227.65V342.00H232.15V372.00H236.65V386.40H241.15V386.40H245.65V391.60H250.15V391.60H254.65V393.70H259.15V382.30H263.65V388.50H268.15V389.50H272.65V391.60H277.15V389.50H281.65V382.30H286.15V383.30H290.65V391.60H295.15V390.00H296.90" fill="none" stroke="#66e040" stroke-width="1.3" stroke-dasharray="2.6,1.4"/>
<path d="M117.60,390.00H119.65V389.50H124.15V382.30H128.65V373.00H133.15V371.00H137.65V377.10H142.15V378.20H146.65V380.20H151.15V378.20H155.65V377.10H160.15V375.10H164.65V380.00H169.15V378.00H173.65V372.70H178.15V361.20H182.65V349.70H187.15V334.00H191.65V328.00H196.15V297.00H200.65V280.00H205.15V264.00H209.65V263.40H214.15V272.70H218.65V282.00H223.15V302.70H227.65V317.20H232.15V317.20H236.65V340.00H241.15V362.00H245.65V378.20H250.15V366.80H254.65V361.70H259.15V371.00H263.65V376.10H268.15V378.00H272.65V385.00H277.15V381.00H281.65V385.00H286.15V383.00H290.65V381.00H295.15V381.00H296.90" fill="none" stroke="#5aaee8" stroke-width="1.3"/>
</g>
<rect x="117.60" y="230.30" width="179.30" height="164.30" fill="none" stroke="#222" stroke-width="0.9"/>
<path d="M117.60,394.40h3.20M296.90,394.40h-3.20M117.60,388.07h1.60M296.90,388.07h-1.60M117.60,381.75h1.60M296.90,381.75h-1.60M117.60,375.42h1.60M296.90,375.42h-1.60M117.60,369.10h3.20M296.90,369.10h-3.20M117.60,362.77h1.60M296.90,362.77h-1.60M117.60,356.45h1.60M296.90,356.45h-1.60M117.60,350.12h1.60M296.90,350.12h-1.60M117.60,343.80h3.20M296.90,343.80h-3.20M117.60,337.47h1.60M296.90,337.47h-1.60M117.60,331.15h1.60M296.90,331.15h-1.60M117.60,324.82h1.60M296.90,324.82h-1.60M117.60,318.50h3.20M296.90,318.50h-3.20M117.60,312.17h1.60M296.90,312.17h-1.60M117.60,305.85h1.60M296.90,305.85h-1.60M117.60,299.52h1.60M296.90,299.52h-1.60M117.60,293.20h3.20M296.90,293.20h-3.20M117.60,286.88h1.60M296.90,286.88h-1.60M117.60,280.55h1.60M296.90,280.55h-1.60M117.60,274.22h1.60M296.90,274.22h-1.60M117.60,267.90h3.20M296.90,267.90h-3.20M117.60,261.57h1.60M296.90,261.57h-1.60M117.60,255.25h1.60M296.90,255.25h-1.60M117.60,248.92h1.60M296.90,248.92h-1.60M117.60,242.60h3.20M296.90,242.60h-3.20M117.60,236.27h1.60M296.90,236.27h-1.60M294.42,394.60v-1.60M294.42,230.30v1.60M289.84,394.60v-1.60M289.84,230.30v1.60M285.26,394.60v-1.60M285.26,230.30v1.60M280.68,394.60v-1.60M280.68,230.30v1.60M276.10,394.60v-1.60M276.10,230.30v1.60M271.52,394.60v-1.60M271.52,230.30v1.60M266.94,394.60v-1.60M266.94,230.30v1.60M262.36,394.60v-1.60M262.36,230.30v1.60M257.78,394.60v-1.60M257.78,230.30v1.60M253.20,394.60v-3.20M253.20,230.30v3.20M248.62,394.60v-1.60M248.62,230.30v1.60M244.04,394.60v-1.60M244.04,230.30v1.60M239.46,394.60v-1.60M239.46,230.30v1.60M234.88,394.60v-1.60M234.88,230.30v1.60M230.30,394.60v-1.60M230.30,230.30v1.60M225.72,394.60v-1.60M225.72,230.30v1.60M221.14,394.60v-1.60M221.14,230.30v1.60M216.56,394.60v-1.60M216.56,230.30v1.60M211.98,394.60v-1.60M211.98,230.30v1.60M207.40,394.60v-3.20M207.40,230.30v3.20M202.82,394.60v-1.60M202.82,230.30v1.60M198.24,394.60v-1.60M198.24,230.30v1.60M193.66,394.60v-1.60M193.66,230.30v1.60M189.08,394.60v-1.60M189.08,230.30v1.60M184.50,394.60v-1.60M184.50,230.30v1.60M179.92,394.60v-1.60M179.92,230.30v1.60M175.34,394.60v-1.60M175.34,230.30v1.60M170.76,394.60v-1.60M170.76,230.30v1.60M166.18,394.60v-1.60M166.18,230.30v1.60M161.60,394.60v-3.20M161.60,230.30v3.20M157.02,394.60v-1.60M157.02,230.30v1.60M152.44,394.60v-1.60M152.44,230.30v1.60M147.86,394.60v-1.60M147.86,230.30v1.60M143.28,394.60v-1.60M143.28,230.30v1.60M138.70,394.60v-1.60M138.70,230.30v1.60M134.12,394.60v-1.60M134.12,230.30v1.60M129.54,394.60v-1.60M129.54,230.30v1.60M124.96,394.60v-1.60M124.96,230.30v1.60M120.38,394.60v-1.60M120.38,230.30v1.60" stroke="#222" stroke-width="0.7" fill="none"/>
<text x="116.30" y="396.30" font-size="6.30" text-anchor="end" fill="#1a1a1a" stroke="#1a1a1a" stroke-width="0.22" textLength="8.5" lengthAdjust="spacingAndGlyphs">0.0</text>
<text x="116.30" y="371.00" font-size="6.30" text-anchor="end" fill="#1a1a1a" stroke="#1a1a1a" stroke-width="0.22" textLength="8.5" lengthAdjust="spacingAndGlyphs">0.2</text>
<text x="116.30" y="345.70" font-size="6.30" text-anchor="end" fill="#1a1a1a" stroke="#1a1a1a" stroke-width="0.22" textLength="8.5" lengthAdjust="spacingAndGlyphs">0.4</text>
<text x="116.30" y="320.40" font-size="6.30" text-anchor="end" fill="#1a1a1a" stroke="#1a1a1a" stroke-width="0.22" textLength="8.5" lengthAdjust="spacingAndGlyphs">0.6</text>
<text x="116.30" y="295.10" font-size="6.30" text-anchor="end" fill="#1a1a1a" stroke="#1a1a1a" stroke-width="0.22" textLength="8.5" lengthAdjust="spacingAndGlyphs">0.8</text>
<text x="116.30" y="269.80" font-size="6.30" text-anchor="end" fill="#1a1a1a" stroke="#1a1a1a" stroke-width="0.22" textLength="8.5" lengthAdjust="spacingAndGlyphs">1.0</text>
<text x="116.30" y="244.50" font-size="6.30" text-anchor="end" fill="#1a1a1a" stroke="#1a1a1a" stroke-width="0.22" textLength="8.5" lengthAdjust="spacingAndGlyphs">1.2</text>
<text x="161.60" y="402.20" font-size="6.30" text-anchor="middle" fill="#1a1a1a" stroke="#1a1a1a" stroke-width="0.22" textLength="13.7" lengthAdjust="spacingAndGlyphs">1000</text>
<text x="207.40" y="402.20" font-size="6.30" text-anchor="middle" fill="#1a1a1a" stroke="#1a1a1a" stroke-width="0.22" textLength="3.5" lengthAdjust="spacingAndGlyphs">0</text>
<text x="253.20" y="402.20" font-size="6.30" text-anchor="middle" fill="#1a1a1a" stroke="#1a1a1a" stroke-width="0.22" textLength="16.4" lengthAdjust="spacingAndGlyphs">-1000</text>
<text x="210.25" y="409.70" font-size="6.45" text-anchor="middle" fill="#1a1a1a" stroke="#1a1a1a" stroke-width="0.22">Nucleocentric distance (km)</text>
<text x="117.80" y="218.40" font-size="6.40" fill="#1a1a1a" stroke="#1a1a1a" stroke-width="0.22">R<tspan font-size="3.84" dy="1.4">h</tspan><tspan dy="-1.4"> = 1.28 AU</tspan></text>
<text x="117.80" y="227.40" font-size="6.40" fill="#1a1a1a" stroke="#1a1a1a" stroke-width="0.22">UT 29 October 2013</text>
<text x="102.70" y="311.40" font-size="6.30" text-anchor="middle" fill="#1a1a1a" stroke="#1a1a1a" stroke-width="0.22" transform="rotate(-90 102.70 311.40)">Relative flux</text>
<line x1="255.20" y1="239.50" x2="266.10" y2="239.50" stroke="#7cc2f2" stroke-width="1.6"/>
<text x="271.00" y="241.80" font-size="6.70" fill="#5aaeea" stroke="#5aaeea" stroke-width="0.22">H<tspan font-size="4.02" dy="1.4">2</tspan><tspan dy="-1.4">O</tspan></text>
<line x1="255.20" y1="247.80" x2="266.10" y2="247.80" stroke="#72e250" stroke-width="1.5" stroke-dasharray="2.4,1.6"/>
<text x="271.00" y="250.10" font-size="6.70" fill="#56d636" stroke="#56d636" stroke-width="0.22">HCN</text>
<line x1="255.20" y1="256.10" x2="266.10" y2="256.10" stroke="#e2a8f2" stroke-width="1.6"/>
<text x="271.00" y="258.40" font-size="6.70" fill="#c070e0" stroke="#c070e0" stroke-width="0.22">CH<tspan font-size="4.02" dy="1.4">4</tspan><tspan dy="-1.4"></tspan></text>
<line x1="255.20" y1="264.40" x2="266.10" y2="264.40" stroke="#c8cccc" stroke-width="1.6"/>
<text x="271.00" y="266.70" font-size="6.70" fill="#b4bbbb" stroke="#b4bbbb" stroke-width="0.22">Cont.</text>
<line x1="255.20" y1="272.70" x2="266.10" y2="272.70" stroke="#869494" stroke-width="1.6"/>
<text x="271.00" y="275.00" font-size="6.70" fill="#667272" stroke="#667272" stroke-width="0.22">PSF</text>
<line x1="141.70" y1="257.80" x2="144.10" y2="245.21" stroke="#111" stroke-width="1.10"/><path d="M145.00,240.50L146.26,245.63L141.94,244.80Z" fill="#111"/>
<line x1="141.70" y1="257.80" x2="128.60" y2="256.50" stroke="#2a3a98" stroke-width="0.9"/>
<line x1="141.70" y1="257.80" x2="128.60" y2="257.80" stroke="#8a9ae0" stroke-width="0.7"/>
<circle cx="127.00" cy="257.80" r="1.6" fill="#f8c09a" stroke="#ec9060" stroke-width="0.6"/>
<text x="144.00" y="239.20" font-size="6.00" fill="#1a1a1a" stroke="#1a1a1a" stroke-width="0.22" font-style="italic" textLength="4.0" lengthAdjust="spacingAndGlyphs">N</text>
<text x="125.40" y="254.60" font-size="5.90" fill="#1a1a1a" stroke="#1a1a1a" stroke-width="0.22" font-style="italic" textLength="3.6" lengthAdjust="spacingAndGlyphs">E</text>
<line x1="130.20" y1="271.30" x2="154.00" y2="271.30" stroke="#111" stroke-width="1.25" stroke-dasharray="4.4,4.8,5.8,3.6,5.2,9"/>
<line x1="134.10" y1="263.00" x2="151.50" y2="279.70" stroke="#e4502c" stroke-width="1.2" stroke-dasharray="6,3.6"/>
<line x1="141.80" y1="270.90" x2="133.38" y2="280.41" stroke="#e04a2a" stroke-width="1.10"/><path d="M130.20,284.00L131.74,278.95L135.03,281.86Z" fill="#e04a2a"/>
<line x1="141.80" y1="270.90" x2="141.80" y2="282.10" stroke="#111" stroke-width="1.10"/><path d="M141.80,286.90L139.60,282.10L144.00,282.10Z" fill="#111"/>
<path d="M137.80,275.40A6,6 0 0 0 141.80,276.90" fill="none" stroke="#333" stroke-width="0.5"/>
<text x="141.00" y="268.60" font-size="6.40" fill="#111" stroke="#111" stroke-width="0.22" textLength="21" lengthAdjust="spacingAndGlyphs">Nucleus</text>
<text x="124.60" y="290.10" font-size="6.10" fill="#e85636" stroke="#e85636" stroke-width="0.22">Sun</text>
<text x="144.80" y="291.10" font-size="6.40" fill="#111" stroke="#111" stroke-width="0.22">Earth</text>
<text x="128.10" y="277.50" font-size="6.08" fill="#111" stroke="#111" stroke-width="0.22" font-style="italic">51°</text>
<defs><clipPath id="c5"><rect x="318.25" y="230.30" width="179.45" height="164.30"/></clipPath></defs>
<g clip-path="url(#c5)">
<path d="M318.25,394.60V386.50H320.05V386.50H324.55V385.50H329.05V385.00H333.55V384.50H338.05V384.00H342.55V383.50H347.05V383.00H351.55V382.50H356.05V381.50H360.55V380.50H365.05V377.00H369.55V374.00H374.05V371.00H378.55V362.00H383.05V350.30H387.55V337.00H392.05V316.00H396.55V294.00H401.05V268.00H405.55V262.00H410.05V273.30H414.55V299.50H419.05V326.50H423.55V340.00H428.05V354.40H432.55V363.70H437.05V369.90H441.55V372.00H446.05V376.10H450.55V378.20H455.05V380.20H459.55V382.30H464.05V385.40H468.55V388.50H473.05V389.50H477.55V390.00H482.05V390.00H486.55V390.50H491.05V391.00H495.55V391.00H497.70V394.60Z" fill="#c2cece"/>
<path d="M373.55,394.60V392.00H378.05V390.00H382.55V386.50H387.05V379.00H391.55V364.00H396.05V336.00H400.55V297.00H405.05V264.00H409.55V274.60H414.05V314.00H418.55V350.00H423.05V374.00H427.55V387.00H432.05V391.00H436.55V392.00H441.05V394.60Z" fill="#7a918f"/>
<path d="M318.25,383.30H320.05V376.10H324.55V375.10H329.05V375.10H333.55V375.10H338.05V368.90H342.55V372.00H347.05V374.00H351.55V365.80H356.05V361.70H360.55V353.40H365.05V348.20H369.55V341.00H374.05V335.80H378.55V331.70H383.05V322.00H387.55V311.00H392.05V290.80H396.55V274.30H401.05V263.20H405.55V262.60H410.05V285.00H414.55V310.00H419.05V324.50H423.55V340.00H428.05V353.40H432.55V364.80H437.05V374.00H441.55V372.00H446.05V376.00H450.55V375.00H455.05V374.00H459.55V379.20H464.05V387.50H468.55V389.50H473.05V390.60H477.55V390.60H482.05V390.60H486.55V390.60H491.05V390.60H495.55V390.60H497.70" fill="none" stroke="#d58ce8" stroke-width="1.3"/>
<path d="M318.25,361.70H320.05V361.70H324.55V362.70H329.05V364.80H333.55V370.00H338.05V367.90H342.55V366.80H347.05V367.90H351.55V370.00H356.05V369.00H360.55V362.70H365.05V355.50H369.55V354.40H374.05V352.40H378.55V343.00H383.05V331.70H387.55V325.00H392.05V313.00H396.55V289.00H401.05V267.50H405.55V266.50H410.05V276.20H414.55V304.40H419.05V322.80H423.55V332.70H428.05V342.00H432.55V359.60H437.05V365.80H441.55V364.80H446.05V366.80H450.55V371.00H455.05V364.80H459.55V372.00H464.05V374.00H468.55V380.20H473.05V384.40H477.55V383.30H482.05V385.40H486.55V384.40H491.05V388.50H495.55V388.00H497.70" fill="none" stroke="#66e040" stroke-width="1.3" stroke-dasharray="2.6,1.4"/>
<path d="M318.25,374.00H320.05V374.00H324.55V380.20H329.05V383.30H333.55V376.10H338.05V371.00H342.55V370.00H347.05V372.00H351.55V374.00H356.05V378.20H360.55V381.30H365.05V376.10H369.55V365.80H374.05V352.40H378.55V341.00H383.05V329.60H387.55V317.50H392.05V305.30H396.55V286.00H401.05V264.60H405.55V261.70H410.05V275.20H414.55V296.60H419.05V314.00H423.55V327.70H428.05V338.90H432.55V352.40H437.05V364.80H441.55V370.00H446.05V373.00H450.55V370.00H455.05V372.00H459.55V373.00H464.05V380.00H468.55V383.30H473.05V386.40H477.55V384.40H482.05V383.30H486.55V383.30H491.05V383.30H495.55V376.10H497.70" fill="none" stroke="#48dcd8" stroke-width="1.3"/>
</g>
<rect x="318.25" y="230.30" width="179.45" height="164.30" fill="none" stroke="#222" stroke-width="0.9"/>
<path d="M318.25,394.40h3.20M497.70,394.40h-3.20M318.25,388.07h1.60M497.70,388.07h-1.60M318.25,381.75h1.60M497.70,381.75h-1.60M318.25,375.42h1.60M497.70,375.42h-1.60M318.25,369.10h3.20M497.70,369.10h-3.20M318.25,362.77h1.60M497.70,362.77h-1.60M318.25,356.45h1.60M497.70,356.45h-1.60M318.25,350.12h1.60M497.70,350.12h-1.60M318.25,343.80h3.20M497.70,343.80h-3.20M318.25,337.47h1.60M497.70,337.47h-1.60M318.25,331.15h1.60M497.70,331.15h-1.60M318.25,324.82h1.60M497.70,324.82h-1.60M318.25,318.50h3.20M497.70,318.50h-3.20M318.25,312.17h1.60M497.70,312.17h-1.60M318.25,305.85h1.60M497.70,305.85h-1.60M318.25,299.52h1.60M497.70,299.52h-1.60M318.25,293.20h3.20M497.70,293.20h-3.20M318.25,286.88h1.60M497.70,286.88h-1.60M318.25,280.55h1.60M497.70,280.55h-1.60M318.25,274.22h1.60M497.70,274.22h-1.60M318.25,267.90h3.20M497.70,267.90h-3.20M318.25,261.57h1.60M497.70,261.57h-1.60M318.25,255.25h1.60M497.70,255.25h-1.60M318.25,248.92h1.60M497.70,248.92h-1.60M318.25,242.60h3.20M497.70,242.60h-3.20M318.25,236.27h1.60M497.70,236.27h-1.60M493.62,394.60v-1.60M493.62,230.30v1.60M487.49,394.60v-1.60M487.49,230.30v1.60M481.36,394.60v-1.60M481.36,230.30v1.60M475.23,394.60v-1.60M475.23,230.30v1.60M469.10,394.60v-3.20M469.10,230.30v3.20M462.97,394.60v-1.60M462.97,230.30v1.60M456.84,394.60v-1.60M456.84,230.30v1.60M450.71,394.60v-1.60M450.71,230.30v1.60M444.58,394.60v-1.60M444.58,230.30v1.60M438.45,394.60v-3.20M438.45,230.30v3.20M432.32,394.60v-1.60M432.32,230.30v1.60M426.19,394.60v-1.60M426.19,230.30v1.60M420.06,394.60v-1.60M420.06,230.30v1.60M413.93,394.60v-1.60M413.93,230.30v1.60M407.80,394.60v-3.20M407.80,230.30v3.20M401.67,394.60v-1.60M401.67,230.30v1.60M395.54,394.60v-1.60M395.54,230.30v1.60M389.41,394.60v-1.60M389.41,230.30v1.60M383.28,394.60v-1.60M383.28,230.30v1.60M377.15,394.60v-3.20M377.15,230.30v3.20M371.02,394.60v-1.60M371.02,230.30v1.60M364.89,394.60v-1.60M364.89,230.30v1.60M358.76,394.60v-1.60M358.76,230.30v1.60M352.63,394.60v-1.60M352.63,230.30v1.60M346.50,394.60v-3.20M346.50,230.30v3.20M340.37,394.60v-1.60M340.37,230.30v1.60M334.24,394.60v-1.60M334.24,230.30v1.60M328.11,394.60v-1.60M328.11,230.30v1.60M321.98,394.60v-1.60M321.98,230.30v1.60" stroke="#222" stroke-width="0.7" fill="none"/>
<text x="316.95" y="396.30" font-size="6.30" text-anchor="end" fill="#1a1a1a" stroke="#1a1a1a" stroke-width="0.22" textLength="8.5" lengthAdjust="spacingAndGlyphs">0.0</text>
<text x="316.95" y="371.00" font-size="6.30" text-anchor="end" fill="#1a1a1a" stroke="#1a1a1a" stroke-width="0.22" textLength="8.5" lengthAdjust="spacingAndGlyphs">0.2</text>
<text x="316.95" y="345.70" font-size="6.30" text-anchor="end" fill="#1a1a1a" stroke="#1a1a1a" stroke-width="0.22" textLength="8.5" lengthAdjust="spacingAndGlyphs">0.4</text>
<text x="316.95" y="320.40" font-size="6.30" text-anchor="end" fill="#1a1a1a" stroke="#1a1a1a" stroke-width="0.22" textLength="8.5" lengthAdjust="spacingAndGlyphs">0.6</text>
<text x="316.95" y="295.10" font-size="6.30" text-anchor="end" fill="#1a1a1a" stroke="#1a1a1a" stroke-width="0.22" textLength="8.5" lengthAdjust="spacingAndGlyphs">0.8</text>
<text x="316.95" y="269.80" font-size="6.30" text-anchor="end" fill="#1a1a1a" stroke="#1a1a1a" stroke-width="0.22" textLength="8.5" lengthAdjust="spacingAndGlyphs">1.0</text>
<text x="316.95" y="244.50" font-size="6.30" text-anchor="end" fill="#1a1a1a" stroke="#1a1a1a" stroke-width="0.22" textLength="8.5" lengthAdjust="spacingAndGlyphs">1.2</text>
<text x="346.50" y="402.20" font-size="6.30" text-anchor="middle" fill="#1a1a1a" stroke="#1a1a1a" stroke-width="0.22" textLength="13.7" lengthAdjust="spacingAndGlyphs">1000</text>
<text x="377.15" y="402.20" font-size="6.30" text-anchor="middle" fill="#1a1a1a" stroke="#1a1a1a" stroke-width="0.22" textLength="10.2" lengthAdjust="spacingAndGlyphs">500</text>
<text x="407.80" y="402.20" font-size="6.30" text-anchor="middle" fill="#1a1a1a" stroke="#1a1a1a" stroke-width="0.22" textLength="3.5" lengthAdjust="spacingAndGlyphs">0</text>
<text x="438.45" y="402.20" font-size="6.30" text-anchor="middle" fill="#1a1a1a" stroke="#1a1a1a" stroke-width="0.22" textLength="13.7" lengthAdjust="spacingAndGlyphs">-500</text>
<text x="469.10" y="402.20" font-size="6.30" text-anchor="middle" fill="#1a1a1a" stroke="#1a1a1a" stroke-width="0.22" textLength="16.4" lengthAdjust="spacingAndGlyphs">-1000</text>
<text x="410.98" y="410.00" font-size="6.45" text-anchor="middle" fill="#1a1a1a" stroke="#1a1a1a" stroke-width="0.22">Nucleocentric distance (km)</text>
<text x="318.45" y="218.40" font-size="6.40" fill="#1a1a1a" stroke="#1a1a1a" stroke-width="0.22">R<tspan font-size="3.84" dy="1.4">h</tspan><tspan dy="-1.4"> = 1.16 AU</tspan></text>
<text x="318.45" y="227.40" font-size="6.40" fill="#1a1a1a" stroke="#1a1a1a" stroke-width="0.22">UT 7 November 2013</text>
<line x1="455.80" y1="239.30" x2="467.00" y2="239.30" stroke="#5ccce6" stroke-width="1.6"/>
<text x="471.80" y="241.60" font-size="6.70" fill="#5aaeea" stroke="#5aaeea" stroke-width="0.22">H<tspan font-size="4.02" dy="1.4">2</tspan><tspan dy="-1.4">O</tspan></text>
<line x1="455.80" y1="247.55" x2="467.00" y2="247.55" stroke="#72e250" stroke-width="1.5" stroke-dasharray="2.4,1.6"/>
<text x="471.80" y="249.85" font-size="6.70" fill="#56d636" stroke="#56d636" stroke-width="0.22">HCN</text>
<line x1="455.80" y1="255.80" x2="467.00" y2="255.80" stroke="#e2a8f2" stroke-width="1.6"/>
<text x="471.80" y="258.10" font-size="6.70" fill="#c070e0" stroke="#c070e0" stroke-width="0.22">CH<tspan font-size="4.02" dy="1.4">4</tspan><tspan dy="-1.4"></tspan></text>
<line x1="455.80" y1="264.05" x2="467.00" y2="264.05" stroke="#c8cccc" stroke-width="1.6"/>
<text x="471.80" y="266.35" font-size="6.70" fill="#b4bbbb" stroke="#b4bbbb" stroke-width="0.22">Cont.</text>
<line x1="455.80" y1="272.30" x2="467.00" y2="272.30" stroke="#869494" stroke-width="1.6"/>
<text x="471.80" y="274.60" font-size="6.70" fill="#667272" stroke="#667272" stroke-width="0.22">PSF</text>
<line x1="343.85" y1="259.90" x2="341.48" y2="247.81" stroke="#111" stroke-width="1.10"/><path d="M340.55,243.10L343.63,247.39L339.32,248.23Z" fill="#111"/>
<line x1="343.85" y1="259.90" x2="331.95" y2="265.40" stroke="#2a3a98" stroke-width="0.9"/>
<line x1="343.85" y1="259.90" x2="331.95" y2="266.70" stroke="#8a9ae0" stroke-width="0.7"/>
<circle cx="330.35" cy="266.70" r="1.6" fill="#f8c09a" stroke="#ec9060" stroke-width="0.6"/>
<text x="338.85" y="241.30" font-size="6.00" fill="#1a1a1a" stroke="#1a1a1a" stroke-width="0.22" textLength="4.0" lengthAdjust="spacingAndGlyphs">N</text>
<text x="326.85" y="263.30" font-size="5.90" fill="#1a1a1a" stroke="#1a1a1a" stroke-width="0.22" textLength="3.6" lengthAdjust="spacingAndGlyphs">E</text>
<line x1="331.85" y1="279.70" x2="355.65" y2="279.70" stroke="#111" stroke-width="1.25" stroke-dasharray="4.4,4.8,5.8,3.6,5.2,9"/>
<line x1="335.75" y1="271.40" x2="353.15" y2="288.10" stroke="#e4502c" stroke-width="1.2" stroke-dasharray="6,3.6"/>
<line x1="343.45" y1="279.30" x2="335.03" y2="288.81" stroke="#e04a2a" stroke-width="1.10"/><path d="M331.85,292.40L333.39,287.35L336.68,290.26Z" fill="#e04a2a"/>
<line x1="343.45" y1="279.30" x2="343.45" y2="290.50" stroke="#111" stroke-width="1.10"/><path d="M343.45,295.30L341.25,290.50L345.65,290.50Z" fill="#111"/>
<path d="M339.45,283.80A6,6 0 0 0 343.45,285.30" fill="none" stroke="#333" stroke-width="0.5"/>
<text x="342.65" y="277.00" font-size="6.40" fill="#111" stroke="#111" stroke-width="0.22" textLength="21" lengthAdjust="spacingAndGlyphs">Nucleus</text>
<text x="326.25" y="298.50" font-size="6.10" fill="#e85636" stroke="#e85636" stroke-width="0.22">Sun</text>
<text x="346.45" y="299.50" font-size="6.40" fill="#111" stroke="#111" stroke-width="0.22">Earth</text>
<text x="329.75" y="285.90" font-size="6.08" fill="#111" stroke="#111" stroke-width="0.22" font-style="italic">58°</text>
</svg></body></html>
